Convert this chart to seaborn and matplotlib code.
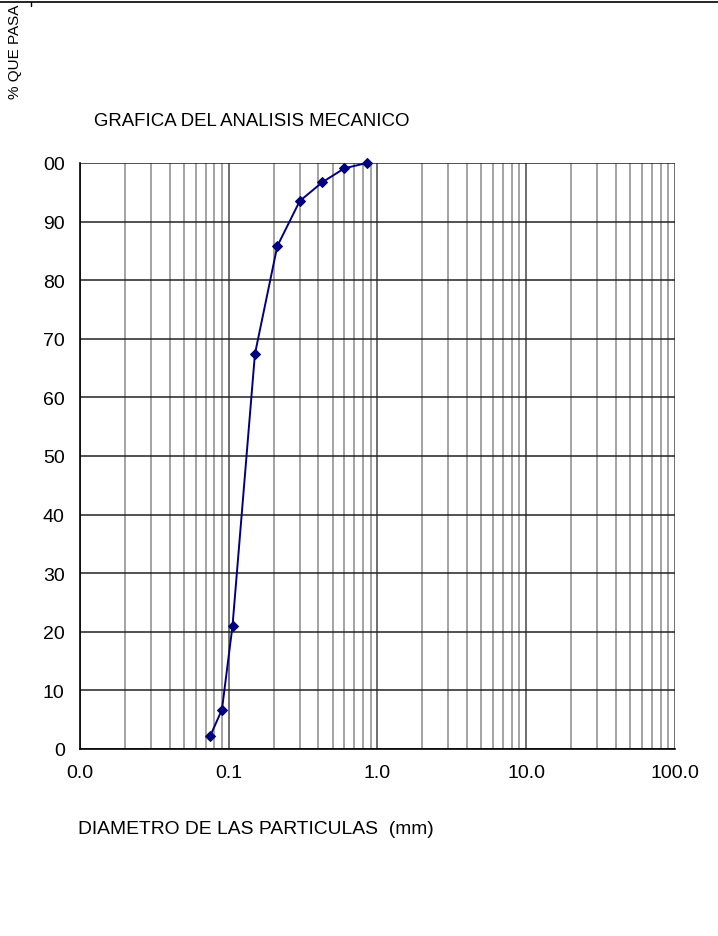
import matplotlib
matplotlib.use("Agg")
import matplotlib.pyplot as plt
from matplotlib.lines import Line2D
from matplotlib.ticker import FixedLocator, LogLocator, NullFormatter
import numpy as np
import pandas as pd
import seaborn as sns

# Sieve opening (mm) and cumulative percent passing
diametro_mm = [0.075, 0.090, 0.106, 0.150, 0.212, 0.300, 0.425, 0.600, 0.850]
pct_pasa = [2.2, 6.7, 21.0, 67.4, 85.8, 93.5, 96.7, 99.1, 100.0]

x_ticks = [0.01, 0.1, 1.0, 10.0, 100.0]
x_tick_labels = ["0.0", "0.1", "1.0", "10.0", "100.0"]
y_ticks = [0, 10, 20, 30, 40, 50, 60, 70, 80, 90, 100]
y_tick_labels = ["0", "10", "20", "30", "40", "50", "60", "70", "80", "90", "00"]

sns.set_style("white")
plt.rcParams["font.family"] = ["Liberation Sans", "DejaVu Sans"]
plt.rcParams["text.color"] = "black"
plt.rcParams["xtick.color"] = "black"
plt.rcParams["ytick.color"] = "black"

df = pd.DataFrame({"diametro": diametro_mm, "pasa": pct_pasa})

fig = plt.figure(figsize=(7.18, 9.37), dpi=100)
ax = fig.add_axes([0.1114, 0.1996, 0.8287, 0.6254])

ax.set_xscale("log")
ax.set_xlim(0.01, 100)
ax.set_ylim(0, 100)

# grid: decades darker, sub-decades lighter, horizontal lines dark
ax.xaxis.set_major_locator(FixedLocator(x_ticks))
ax.xaxis.set_minor_locator(LogLocator(base=10, subs=np.arange(2, 10)))
ax.xaxis.set_minor_formatter(NullFormatter())
ax.set_xticks(x_ticks)
ax.set_xticklabels(x_tick_labels)
ax.set_yticks(y_ticks)
ax.set_yticklabels(y_tick_labels)

ax.grid(True, which="major", axis="x", color="#555555", lw=1.2)
ax.grid(True, which="minor", axis="x", color="#8a8a8a", lw=1.1)
ax.grid(True, which="major", axis="y", color="#222222", lw=1.1)
ax.set_axisbelow(True)

sns.lineplot(data=df, x="diametro", y="pasa", ax=ax, color="#000080",
             marker="D", markersize=5, markeredgecolor="#000080",
             linewidth=1.4, sort=True, clip_on=False, zorder=5)

for side in ["top", "right"]:
    ax.spines[side].set_visible(False)
for side in ["left", "bottom"]:
    ax.spines[side].set_color("black")
    ax.spines[side].set_linewidth(1.2)

ax.tick_params(axis="x", which="major", direction="inout", length=10,
               width=1.2, color="black", labelcolor="black", labelsize=14, pad=6)
ax.tick_params(axis="x", which="minor", length=0)
ax.tick_params(axis="y", which="major", direction="out", length=5,
               width=1.2, color="black", labelcolor="black", labelsize=14, pad=6)
ax.set_xlabel("")
ax.set_ylabel("")

fig.text(94 / 718, 1 - 121 / 937, "GRAFICA DEL ANALISIS MECANICO",
         fontsize=13.4, ha="left", va="center", color="black")
fig.text(78 / 718, 1 - 830 / 937, "DIAMETRO DE LAS PARTICULAS  (mm)",
         fontsize=13.9, ha="left", va="center", color="black")
fig.text(15 / 718, 1 - 52 / 937, "% QUE PASA", fontsize=11,
         rotation=90, ha="center", va="center", color="black")

# top border line
fig.add_artist(Line2D([0, 1], [1 - 3 / 937, 1 - 3 / 937],
                      color="black", lw=1.2, transform=fig.transFigure))
fig.add_artist(Line2D([31 / 718, 31 / 718], [1 - 3 / 937, 1 - 7 / 937],
                      color="black", lw=1.0, transform=fig.transFigure))

fig.savefig("out.png", dpi=100, facecolor="white")
